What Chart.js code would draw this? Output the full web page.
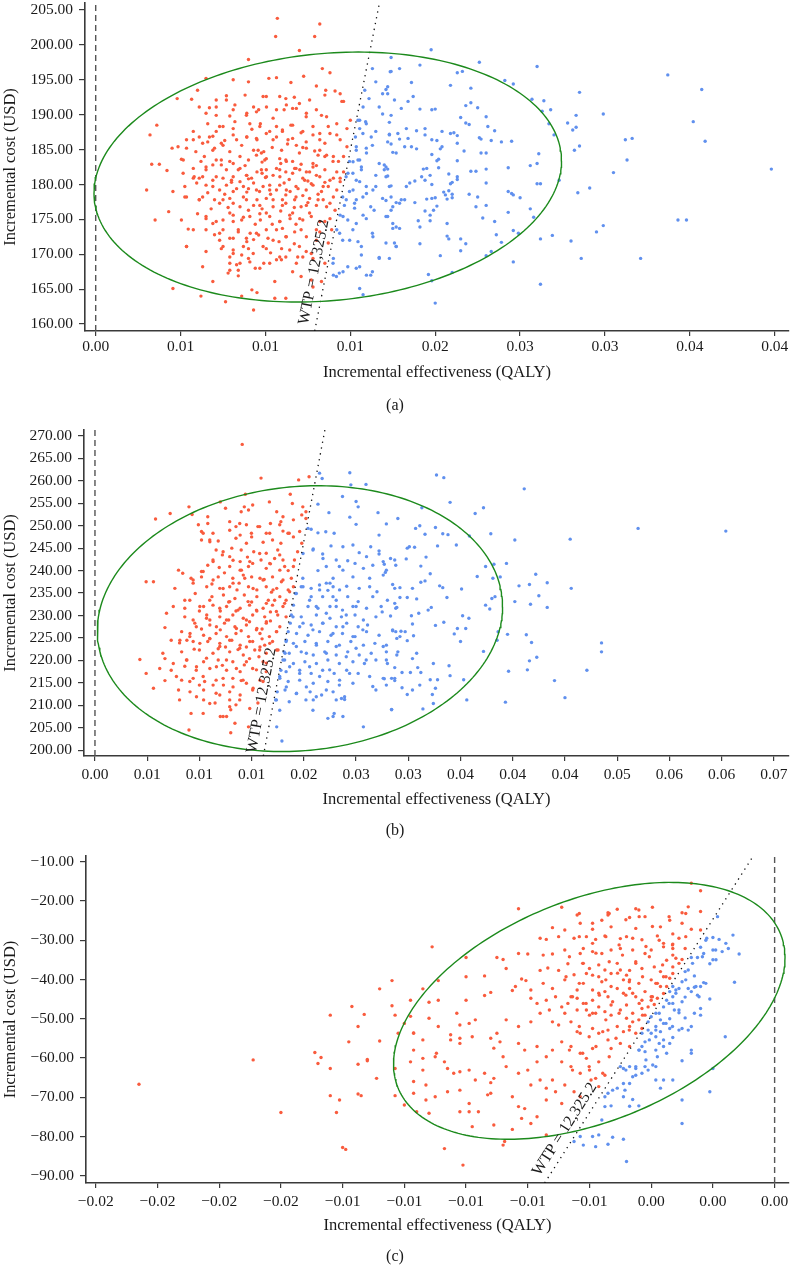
<!DOCTYPE html>
<html>
<head>
<meta charset="utf-8">
<title>Cost-effectiveness planes</title>
<script src="https://cdn.jsdelivr.net/npm/chart.js@4.4.1/dist/chart.umd.min.js"></script>
<style>
  html, body { margin: 0; padding: 0; background: #fff; }
  #page { position: relative; width: 793px; height: 1266px; overflow: hidden; }
  .panel { position: absolute; left: 0; width: 793px; }
</style>
</head>
<body>
<div id="page">
  <div class="panel" style="top:-13px;height:433px"><canvas id="chartA"></canvas></div>
  <div class="panel" style="top:414px;height:426px"><canvas id="chartB"></canvas></div>
  <div class="panel" style="top:840px;height:426px"><canvas id="chartC"></canvas></div>
</div>
<script>
// willingness-to-pay threshold (USD / QALY)
const WTP = 12325.2;

// points are [incremental effectiveness in 1/1000 QALY, incremental cost in USD]
// panel (a)
const redA = [
  [10.7,203.8],[13.2,203.0],[10.6,201.2],[12.9,201.2],[12.0,199.2],[9.0,197.9],[13.35,196.6],[13.8,196.0],[6.5,195.2],[8.1,195.0],
  [9.0,194.7],[10.2,195.2],[10.65,195.3],[12.25,195.5],[11.5,194.6],[13.0,194.1],[6.0,193.5],[13.55,193.5],[14.1,193.4],[4.8,192.3],
  [5.65,192.2],[7.1,192.1],[7.7,192.7],[8.8,192.8],[10.05,192.6],[11.2,192.3],[11.7,192.5],[12.6,192.1],[14.5,191.9],[14.4,193.0],
  [6.1,191.1],[6.7,191.0],[8.2,191.4],[9.3,191.1],[11.1,190.7],[11.6,190.9],[12.0,191.6],[13.3,189.9],[7.1,189.9],[7.9,189.8],
  [8.9,190.2],[9.6,190.7],[10.45,189.5],[12.4,189.7],[15.0,189.2],[3.6,188.5],[6.6,188.7],[7.3,188.3],[8.1,188.0],[9.7,188.7],
  [10.65,188.3],[11.5,188.5],[12.8,188.3],[13.7,188.3],[14.8,188.0],[5.75,187.6],[6.1,186.8],[8.1,187.1],[8.9,186.8],[10.05,187.3],
  [11.0,187.6],[12.1,187.4],[13.2,187.3],[14.2,187.1],[3.2,187.1],[5.35,186.4],[6.6,186.1],[7.4,185.9],[9.5,186.4],[10.45,186.4],
  [11.6,186.6],[12.4,186.1],[13.5,185.9],[14.8,185.4],[4.5,185.2],[4.85,185.4],[5.9,184.7],[6.9,184.9],[7.9,184.7],[9.3,184.9],
  [9.9,184.7],[10.95,184.9],[12.0,184.5],[13.1,184.2],[14.0,184.0],[14.6,184.0],[6.4,184.0],[8.5,184.0],[7.1,183.5],[8.1,183.0],
  [9.0,183.5],[10.05,183.7],[11.2,183.5],[11.6,183.3],[12.8,183.0],[13.5,184.0],[14.3,183.3],[5.05,183.6],[3.3,182.9],[3.75,182.9],
  [4.2,182.0],[5.75,182.3],[6.5,182.5],[7.7,182.1],[8.5,182.3],[9.5,181.8],[10.05,182.1],[10.65,182.3],[11.2,181.8],[11.8,182.3],
  [12.6,181.8],[13.5,182.1],[14.6,181.8],[5.15,181.6],[5.75,180.9],[6.3,181.1],[7.1,181.1],[8.1,181.1],[8.9,181.3],[9.8,181.6],
  [10.85,181.1],[11.6,181.6],[12.2,180.9],[13.2,181.1],[14.0,180.9],[14.4,180.4],[5.95,180.2],[6.5,179.9],[7.7,179.9],[8.5,180.4],
  [9.3,180.2],[10.25,179.9],[11.1,180.2],[11.8,179.7],[12.8,179.9],[13.7,179.7],[3.0,179.2],[4.55,179.0],[5.25,179.7],[7.3,179.2],
  [8.1,179.0],[9.0,179.4],[9.65,179.0],[10.65,179.2],[11.45,179.0],[12.4,179.2],[13.3,179.0],[14.2,179.2],[5.25,178.2],[6.3,178.2],
  [7.0,177.8],[7.9,178.0],[8.7,178.2],[9.5,177.8],[10.05,178.0],[11.0,177.8],[11.8,178.2],[12.6,178.0],[13.4,177.8],[14.0,178.2],
  [6.1,177.8],[7.3,177.3],[8.5,176.8],[9.3,177.0],[10.45,176.8],[11.2,177.3],[12.1,176.8],[13.0,177.0],[13.8,177.3],[4.3,176.1],
  [7.9,175.9],[9.0,176.3],[10.05,175.9],[11.6,175.9],[12.6,175.9],[3.5,174.9],[5.05,174.9],[6.5,175.1],[7.1,174.7],[8.1,174.7],
  [9.7,174.9],[10.85,174.7],[11.45,175.1],[12.2,174.9],[13.5,174.7],[5.45,173.6],[6.5,173.5],[7.5,173.5],[8.4,173.5],[9.1,173.0],
  [10.05,173.5],[11.0,173.7],[12.1,173.5],[13.2,173.2],[13.9,173.5],[7.3,172.0],[8.1,172.3],[8.9,171.8],[9.6,172.75],[10.45,172.0],
  [11.2,172.5],[13.0,172.0],[5.35,171.1],[7.4,170.8],[8.1,170.6],[9.0,170.8],[10.05,170.8],[10.95,170.8],[12.0,171.1],[13.7,171.6],
  [7.9,169.6],[9.0,169.4],[9.9,168.7],[10.65,169.2],[11.2,169.6],[11.9,169.6],[12.8,169.4],[6.3,168.2],[8.3,168.5],[8.5,168.7],
  [7.9,167.7],[9.4,168.0],[11.6,167.5],[13.5,168.7],[7.8,167.3],[8.4,166.9],[12.1,166.8],[6.9,166.1],[10.55,166.1],[13.3,166.1],
  [4.55,165.1],[9.2,164.9],[9.5,164.5],[6.2,164.0],[8.6,164.0],[10.55,163.7],[11.2,163.7],[7.65,163.2],[9.3,162.0],[12.7,166.3],
  [12.8,165.3],[6.9,186.9],[7.6,186.3],[8.6,185.6],[9.2,187.9],[10.4,185.3],[11.3,185.8],[12.2,185.3],[12.9,184.8],[6.2,183.3],
  [7.4,182.8],[8.8,182.7],[9.8,183.2],[10.9,183.0],[12.1,182.9],[13.0,182.7],[6.9,180.6],[8.0,180.3],[9.0,180.8],[10.0,181.0],
  [11.4,180.7],[12.5,180.5],[13.5,180.3],[6.6,178.8],[7.6,178.6],[8.9,178.9],[10.3,178.6],[11.2,178.5],[12.2,178.4],[13.1,178.6],
  [6.8,176.5],[7.8,176.7],[9.8,176.5],[10.9,176.2],[11.7,176.7],[12.5,177.4],[6.0,175.8],[8.7,175.3],[9.4,174.3],[10.4,174.3],
  [11.8,174.3],[7.0,172.8],[9.3,172.1],[10.8,171.8],[11.7,171.5],[6.5,170.4],[8.6,169.9],[10.3,170.2],[12.4,170.4],
  [9.57,184.9],[9.76,184.5],[9.47,184.2],[9.96,183.5],[10.84,183.7],[11.23,183.3],[11.72,182.3],[12.02,182.1],[12.41,181.8],[12.8,182.5],
  [13.0,181.3],[10.84,182.1],[10.45,181.3],[10.06,181.1],[9.76,182.1],[9.18,180.9],[8.88,181.3],[8.4,182.1],[7.9,183.3],[7.4,183.5],
  [6.9,182.8],[6.5,182.1],[6.1,180.9],[5.8,181.1],[7.5,180.9],[8.0,180.6],[6.9,179.7],[8.3,179.4],[8.7,179.7],[9.47,179.2],
  [9.86,179.7],[10.25,179.2],[10.84,179.9],[11.23,179.2],[11.92,179.4],[12.31,180.6],[12.7,180.1],[13.4,179.7],[13.8,180.6],[14.2,181.8],
  [14.4,180.9],[13.98,183.3],[13.6,184.2],[13.2,184.9],[12.41,185.2],[11.82,185.6],[11.33,186.4],[10.65,186.8],[10.25,187.6],[9.67,188.3],
  [9.08,188.7],[8.2,189.0],[7.5,188.3],[7.1,187.6],[6.7,186.8],[6.3,185.9],[5.75,186.4],[5.35,185.2],[7.0,185.2],[7.5,185.6],
  [8.3,186.4],[8.9,186.8],[9.47,186.6],[11.0,187.8],[11.6,188.5],[12.2,187.6],[12.8,187.1],[13.2,186.4],[13.8,187.3],[14.4,186.4],
  [14.2,188.7],[13.6,189.7],[13.0,190.7],[12.41,190.2],[11.82,190.9],[11.23,191.4],[10.65,190.7],[10.06,191.1],[9.47,190.4],[8.88,189.9],
  [8.1,190.7],[7.1,191.1],[6.5,190.2],[7.7,192.1],[9.86,192.6],[10.84,192.6],[13.5,192.8],[14.6,191.9],[6.5,175.4],[6.9,174.4],
  [7.5,174.9],[8.1,175.6],[8.6,174.9],[9.08,175.4],[9.67,175.8],[10.25,175.4],[10.84,174.7],[11.43,175.6],[12.02,175.1],[12.7,175.4],
  [13.2,174.7],[13.8,175.1],[14.1,176.3],[7.3,173.0],[7.9,172.3],[8.4,173.2],[8.88,172.3],[9.47,173.0],[10.15,172.3],[10.65,173.5],
  [11.23,172.5],[11.72,173.2],[12.41,172.5],[13.0,173.5],[7.5,171.1],[8.1,170.1],[8.7,171.1],[9.28,170.1],[9.86,171.1],[10.84,169.6],
  [11.43,170.6],[12.2,169.6],[12.7,170.1],[7.9,168.7],[8.4,167.7],[9.08,168.9],[9.67,168.0],[10.25,168.7],[10.94,169.2],[11.82,168.7],
  [5.35,171.1],[5.75,173.5],[6.1,177.8],[5.35,178.2],[5.16,183.5],[7.5,177.8],[8.1,177.3],[8.88,177.8],[9.67,177.0],[10.45,177.8],
  [11.0,177.0],[11.72,177.8],[12.41,177.0],[13.1,177.8],[13.6,176.8]
];
const blueA = [
  [16.3,196.6],[17.4,196.2],[16.5,194.7],[17.2,194.0],[15.85,193.5],[16.9,193.0],[16.1,192.3],[15.75,191.1],[16.7,191.1],[17.4,189.9],
  [15.45,189.2],[15.9,189.0],[15.55,188.0],[16.5,187.6],[17.3,187.1],[15.3,186.8],[16.3,185.6],[17.2,186.1],[15.35,185.4],[15.95,184.5],
  [15.45,183.5],[14.95,183.3],[16.7,183.0],[15.65,182.5],[17.1,182.5],[15.15,181.6],[16.5,181.3],[17.1,181.1],[14.75,181.1],[15.55,180.4],
  [16.5,179.7],[17.3,179.7],[14.95,179.0],[15.95,178.7],[14.55,178.2],[15.35,177.8],[16.9,178.0],[14.65,177.0],[15.25,176.6],[16.4,176.3],
  [17.5,176.8],[14.4,175.6],[15.75,175.6],[17.1,175.4],[14.85,174.9],[17.7,173.9],[14.2,173.5],[15.15,173.5],[16.3,173.0],[14.55,172.0],
  [15.45,171.8],[17.1,171.6],[17.7,171.1],[15.65,169.9],[16.7,169.4],[14.0,169.4],[14.85,168.2],[15.35,168.0],[14.35,167.3],[15.95,167.0],
  [16.3,167.5],[15.55,165.1],[15.75,164.2],[14.0,167.0],
  [19.76,199.3],[17.4,198.2],[17.35,196.15],[17.9,196.6],[19.1,197.1],[22.6,197.5],[26.0,196.9],[21.3,196.0],[21.6,196.2],[18.6,194.6],
  [20.9,194.2],[24.1,194.9],[24.6,194.4],[22.1,193.8],[17.1,193.6],[17.2,193.0],[18.7,192.6],[17.6,192.1],[18.4,191.9],[28.5,193.2],
  [25.7,192.2],[26.4,192.0],[22.1,191.7],[21.8,191.3],[22.5,191.0],[18.0,190.9],[19.1,190.8],[19.8,190.7],[20.0,190.8],[26.3,190.5],
  [26.8,190.7],[16.9,190.1],[28.3,189.9],[29.9,190.1],[21.5,189.6],[23.0,189.7],[21.8,188.8],[22.0,188.6],[27.8,188.8],[26.7,188.7],
  [17.3,188.9],[23.1,188.3],[23.5,187.7],[28.1,187.8],[28.3,188.2],[35.2,189.0],[35.7,193.6],[33.7,195.7],[18.3,188.0],[18.9,187.7],
  [19.4,188.0],[19.4,187.1],[20.4,187.6],[20.9,187.3],[21.1,187.4],[21.3,187.0],[17.3,187.2],[17.8,187.3],[18.4,186.6],[17.9,186.5],
  [19.8,186.4],[20.1,186.3],[22.6,186.7],[22.7,186.5],[23.3,186.3],[23.9,186.1],[24.5,186.2],[27.0,187.1],[31.2,186.4],[31.6,186.6],
  [35.9,186.2],[17.4,185.8],[18.2,185.4],[18.6,185.4],[18.9,185.1],[20.4,185.4],[21.3,185.9],[20.3,185.1],[28.5,185.5],[28.2,184.9],
  [17.5,184.6],[17.7,184.5],[19.8,184.3],[21.7,184.8],[22.7,184.5],[23.0,184.5],[26.1,184.4],[20.1,183.4],[20.2,183.6],[21.3,183.4],
  [25.6,182.7],[26.0,183.0],[31.3,183.5],[17.0,182.8],[19.3,182.2],[19.5,182.3],[20.2,182.4],[24.3,182.4],[17.0,182.1],[17.2,182.2],
  [17.2,181.2],[22.1,181.9],[22.4,181.9],[23.0,182.2],[30.5,181.7],[39.8,182.2],[20.8,181.5],[19.7,181.3],[19.2,181.1],[21.3,181.1],
  [21.3,180.7],[19.4,180.6],[18.8,180.5],[18.5,180.2],[21.0,180.3],[20.9,180.1],[23.0,180.2],[26.0,180.1],[26.2,180.1],[27.3,180.6],
  [19.8,180.0],[18.3,179.7],[17.4,179.8],[28.4,178.8],[29.1,179.5],[20.5,178.9],[20.6,178.5],[20.8,179.1],[21.0,178.6],[22.0,178.6],
  [22.5,178.2],[24.3,179.0],[24.5,178.7],[24.6,178.5],[25.0,178.1],[19.5,177.9],[19.8,178.0],[20.0,178.1],[17.1,177.7],[17.4,178.2],
  [17.7,177.4],[17.9,177.3],[18.0,177.8],[18.2,177.8],[18.8,177.4],[21.0,178.1],[20.7,177.9],[20.1,176.9],[19.4,176.2],[19.9,176.3],
  [17.4,176.3],[22.4,176.8],[23.0,177.0],[24.3,176.0],[25.6,176.5],[17.2,175.4],[19.7,175.6],[22.8,175.2],[25.8,175.3],[19.0,174.8],
  [19.7,174.8],[20.7,174.4],[17.5,174.4],[17.5,173.7],[17.9,173.7],[19.1,173.9],[23.5,174.7],[34.3,174.9],[34.8,174.9],[29.9,174.1],
  [29.5,173.2],[24.6,173.4],[24.9,173.0],[23.6,172.8],[20.7,172.6],[20.8,172.2],[21.5,172.2],[26.2,172.2],[26.9,172.7],[28.0,171.9],
  [23.9,171.7],[21.8,171.5],[19.1,171.5],[17.6,171.6],[17.7,171.1],[21.5,170.5],[20.3,169.8],[23.0,169.8],[23.3,170.4],[16.7,169.55],
  [17.3,169.4],[24.6,168.9],[28.6,169.4],[32.1,169.4],[19.6,167.1],[19.8,166.2],[21.0,167.4],[26.2,165.7],[20.0,163.0],
  [15.16,183.25],[15.55,183.5],[14.86,181.6],[15.35,180.6],[15.65,182.1],[15.94,179.7],[15.16,179.2],[14.76,177.8],[15.25,177.3],[15.74,178.2],
  [16.33,179.2],[16.2,176.8],[14.57,175.4],[15.35,174.4],[15.94,175.1],[14.37,173.0],[14.96,172.0],[15.65,171.1],[16.33,172.5],[13.98,168.7],
  [14.57,167.5],[14.18,166.8],[15.55,168.2],[16.2,167.0],[15.55,189.2],[15.94,188.7],[15.74,187.3],[16.23,186.8],[15.35,184.9],[15.94,185.2]
];

// panel (b)
const redB = [
  [14.1,268.1],[15.9,260.6],[19.5,260.2],[20.5,260.9],[14.4,257.0],[18.7,257.0],[12.0,255.3],[16.7,255.3],[9.0,254.2],[12.5,253.9],
  [14.3,254.2],[15.1,254.6],[18.9,254.95],[19.9,254.2],[7.2,252.7],[5.8,251.5],[9.3,252.5],[10.8,252.0],[14.0,253.1],[14.7,253.5],
  [17.4,253.1],[18.0,252.0],[19.8,252.4],[20.2,253.1],[9.9,250.2],[10.8,250.5],[12.9,250.9],[13.5,249.8],[14.5,250.2],[15.6,249.8],
  [16.8,250.5],[17.8,250.9],[19.0,251.3],[20.2,251.6],[10.2,248.7],[11.3,248.3],[13.9,247.9],[15.0,247.5],[16.4,248.3],[18.0,248.8],
  [18.6,248.3],[19.6,248.7],[10.2,246.8],[11.0,246.4],[11.8,246.6],[13.5,247.2],[14.5,246.1],[16.1,246.3],[17.0,246.8],[17.8,246.1],
  [19.0,247.5],[19.8,246.1],[11.6,244.6],[13.1,245.0],[14.0,244.6],[15.2,244.2],[16.4,243.85],[17.5,244.6],[19.4,244.2],[11.3,242.35],
  [12.9,243.1],[13.9,242.0],[15.1,241.6],[15.9,242.35],[17.2,242.7],[18.0,242.35],[19.1,242.35],[10.8,241.2],[11.9,240.7],[12.9,240.9],
  [13.9,240.1],[14.7,240.9],[16.4,240.5],[17.7,240.1],[19.0,240.9],[8.0,240.1],[8.4,239.4],[10.2,239.8],[4.9,237.5],[5.6,237.5],
  [9.2,238.3],[10.2,238.6],[11.8,238.6],[13.2,238.3],[15.0,238.6],[15.8,238.3],[17.0,238.6],[18.0,237.9],[18.8,238.3],[7.65,236.05],
  [9.4,237.2],[10.7,236.4],[11.95,236.05],[12.9,236.4],[13.6,235.7],[14.7,236.4],[15.5,235.7],[16.4,236.4],[17.4,236.05],[18.5,235.7],
  [19.0,236.4],[9.6,234.9],[11.2,234.2],[12.3,234.55],[13.4,233.8],[14.3,234.55],[15.5,234.2],[16.6,233.4],[17.7,234.2],[18.3,233.4],
  [8.6,233.4],[7.5,232.0],[8.6,231.6],[10.4,232.0],[11.3,232.3],[12.6,232.0],[13.9,231.6],[14.8,232.3],[16.1,231.6],[17.0,232.3],
  [18.0,232.0],[6.85,230.5],[10.7,230.1],[11.95,229.7],[13.2,230.1],[14.2,229.4],[15.1,230.1],[16.25,229.7],[17.5,230.1],[18.3,229.7],
  [9.4,229.0],[9.7,227.5],[11.0,227.9],[12.4,228.3],[13.4,227.5],[14.5,227.9],[15.5,227.1],[16.4,228.3],[17.7,227.5],[6.7,227.3],
  [8.3,226.4],[9.1,226.0],[10.4,225.6],[11.6,226.0],[12.6,225.3],[13.5,226.0],[14.7,225.3],[15.8,226.0],[16.7,225.3],[17.4,226.4],
  [7.3,224.5],[8.1,223.9],[8.8,224.5],[9.4,224.2],[10.8,224.2],[11.95,223.8],[13.1,224.5],[13.9,223.4],[15.1,224.2],[16.25,223.4],
  [17.0,224.2],[4.3,220.2],[4.9,217.1],[6.5,221.6],[8.3,221.9],[10.0,222.3],[11.3,221.6],[12.9,221.9],[14.2,221.2],[15.3,222.3],
  [16.4,221.6],[17.4,222.3],[6.7,220.4],[8.8,220.1],[10.4,219.7],[11.8,220.1],[13.2,219.7],[14.8,220.4],[16.1,219.7],[7.5,219.3],
  [6.2,218.2],[7.3,217.8],[8.6,218.7],[9.7,217.8],[11.0,218.2],[12.6,217.8],[13.9,217.5],[15.1,218.2],[16.4,217.5],[5.6,213.8],
  [6.7,215.5],[8.3,215.6],[9.4,216.0],[10.5,215.3],[11.6,215.6],[13.2,216.0],[14.5,214.9],[15.8,215.6],[8.0,213.4],[9.1,213.0],
  [10.4,213.4],[11.6,212.7],[12.9,213.0],[13.9,212.3],[15.1,213.4],[8.1,211.2],[10.4,211.2],[11.5,210.5],[12.9,211.2],[13.5,210.1],
  [15.6,210.5],[9.2,208.2],[12.0,207.5],[12.6,207.5],[13.4,206.0],[9.0,204.5],[13.0,203.9],[14.7,205.2],
  [12.2,243.5],[14.6,243.0],[16.8,241.5],[18.5,240.0],[12.4,239.5],[14.2,239.0],[16.2,238.0],[11.2,237.0],[13.8,237.2],[16.9,235.2],
  [12.8,233.0],[15.0,233.0],[17.2,233.4],[10.0,231.0],[12.0,231.0],[13.5,231.0],[15.5,231.0],[16.8,230.8],[11.0,229.0],[12.8,229.0],
  [14.8,228.6],[16.8,228.8],[10.2,227.0],[12.0,226.8],[14.0,226.6],[16.0,227.0],[11.0,224.8],[12.5,223.0],[14.5,223.0],[16.0,224.8],
  [9.5,222.5],[11.8,222.6],[13.7,222.4],[15.8,223.0],[12.2,218.9],[14.3,219.0],[15.7,220.8],[10.0,214.5],[12.3,214.5],[14.0,215.5],
  [13.0,209.0],
  [10.36,248.3],[10.99,246.8],[12.9,249.0],[13.86,250.5],[14.98,248.3],[15.77,249.8],[16.73,248.3],[17.69,250.2],[18.48,248.3],[12.27,244.2],
  [13.22,242.3],[14.02,240.1],[14.82,242.0],[15.77,243.8],[16.73,241.6],[17.69,243.5],[18.16,240.9],[11.31,242.0],[10.36,239.8],[9.4,237.9],
  [11.31,237.9],[12.27,236.0],[13.22,237.2],[14.34,238.3],[15.14,236.0],[16.09,237.9],[17.05,235.7],[17.85,237.5],[18.64,235.3],[9.08,233.4],
  [10.04,232.0],[10.99,233.4],[11.95,231.6],[12.9,233.1],[13.7,231.2],[14.66,233.1],[15.46,231.2],[16.41,232.7],[17.37,230.9],[18.16,232.7],
  [8.6,229.7],[9.56,228.3],[10.68,229.4],[11.63,227.5],[12.59,229.0],[13.54,227.1],[14.5,229.0],[15.46,226.8],[16.41,228.6],[17.37,226.4],
  [8.13,224.5],[9.08,225.3],[10.04,223.8],[10.99,224.9],[11.95,223.1],[12.9,224.5],[13.86,222.7],[14.82,224.2],[15.77,222.3],[16.73,223.8],
  [17.53,222.3],[8.76,220.1],[9.72,218.6],[10.68,220.5],[11.63,218.6],[12.59,220.1],[13.54,218.2],[14.5,219.7],[15.46,217.9],[16.41,219.4],
  [7.8,216.4],[9.08,215.3],[10.36,216.4],[11.31,214.5],[12.27,216.0],[13.22,214.1],[14.18,215.6],[15.14,213.8],[16.09,215.3],[9.72,211.9],
  [10.99,210.4],[11.95,212.3],[12.9,209.7],[13.86,211.2],[14.82,209.3],[10.36,208.2],[12.27,207.5]
];
const blueB = [
  [21.5,261.7],[21.75,260.5],[24.4,261.8],[24.5,259.1],[25.95,259.2],[21.35,254.8],[22.4,252.9],[23.7,256.5],[25.0,255.4],[25.2,254.2],
  [27.1,252.9],[29.0,251.6],[24.4,251.9],[27.9,250.4],[25.0,250.3],[20.4,249.4],[20.7,249.2],[21.35,248.4],[22.1,248.65],[22.9,248.3],
  [27.2,247.9],[24.7,245.7],[26.4,245.3],[22.6,245.5],[20.9,244.8],[21.8,243.7],[25.3,244.0],[26.0,243.1],[27.2,243.7],[28.3,242.7],
  [24.2,242.2],[24.9,241.6],[27.6,242.0],[28.7,242.35],[23.4,240.9],[25.7,240.5],[26.6,241.2],[27.9,240.1],[21.35,240.0],[22.8,238.3],
  [24.7,238.6],[26.3,238.3],[27.6,239.0],[19.9,238.3],[19.75,236.4],[20.7,236.05],[21.5,236.8],[22.5,237.2],[22.3,235.6],[22.8,236.4],
  [24.1,236.5],[25.3,236.05],[26.3,236.4],[27.0,235.3],[28.7,236.05],[19.2,234.9],[20.7,234.2],[21.8,234.2],[23.1,233.4],[24.2,234.2],
  [25.2,233.1],[26.6,234.2],[28.0,233.4],[19.0,232.3],[20.4,232.0],[21.35,231.6],[22.5,232.0],[23.7,231.2],[24.7,232.0],[26.0,231.6],
  [27.4,232.0],[28.8,231.6],[18.8,230.1],[19.75,229.7],[21.2,230.1],[22.5,229.4],[23.6,229.7],[24.9,230.1],[25.7,229.0],[26.9,229.7],
  [18.7,228.3],[19.6,227.5],[20.7,227.9],[21.8,228.3],[23.1,227.5],[24.1,228.3],[25.2,227.5],[26.1,227.9],[28.5,226.8],[18.5,226.4],
  [19.3,226.0],[20.4,225.6],[21.5,226.4],[22.6,225.6],[23.7,226.0],[24.9,225.3],[26.0,226.4],[27.2,225.6],[18.3,224.2],[19.0,223.8],
  [20.1,224.2],[21.2,223.4],[22.3,224.2],[23.4,223.4],[24.5,224.2],[25.7,223.4],[26.8,223.8],[27.9,223.4],[18.1,221.9],[18.6,221.6],
  [19.75,221.9],[20.9,221.2],[22.0,221.9],[23.1,221.2],[24.2,221.9],[25.3,221.2],[26.45,221.6],[27.9,221.9],[18.0,220.1],[19.0,219.3],
  [20.1,219.7],[21.2,219.3],[22.3,220.1],[23.4,219.3],[24.7,219.7],[25.8,219.3],[26.9,220.1],[28.0,219.3],[17.8,217.8],[18.3,217.5],
  [19.6,217.8],[20.7,217.1],[21.8,217.8],[22.9,217.1],[24.1,217.8],[25.2,217.1],[26.3,216.4],[27.6,216.0],[28.7,216.0],[17.7,216.0],
  [18.5,215.3],[19.6,215.6],[20.9,214.9],[22.3,215.3],[23.4,214.5],[24.7,214.9],[26.6,214.2],[26.9,213.4],[17.45,213.0],[18.2,213.4],
  [19.3,212.7],[20.6,213.0],[21.7,212.3],[22.8,213.0],[23.9,211.9],[17.3,211.2],[18.6,210.8],[20.2,211.2],[20.9,211.2],[23.6,211.5],
  [23.9,211.3],[28.4,209.0],[22.3,207.1],[22.8,207.5],[22.9,208.2],[25.7,205.2],[17.4,205.2],[17.9,202.05],
  [32.7,261.3],[33.4,260.7],[41.1,258.2],[34.0,255.2],[31.3,254.0],[37.2,254.0],[36.4,252.7],[30.7,249.4],[31.1,250.0],[32.6,249.6],
  [33.3,248.2],[33.8,248.0],[31.6,248.1],[35.85,247.7],[37.9,248.2],[40.2,246.8],[45.5,247.0],[52.0,249.4],[60.4,248.8],[32.8,245.5],
  [34.6,245.7],[29.9,245.0],[30.1,245.3],[30.6,245.2],[27.2,244.4],[31.7,243.0],[29.8,242.6],[28.8,241.2],[27.7,241.4],[31.2,241.0],
  [37.4,240.9],[38.2,241.4],[39.4,241.6],[32.1,239.3],[36.6,238.7],[38.1,238.3],[38.8,238.6],[42.2,239.2],[27.8,239.6],[31.2,237.4],
  [31.6,237.7],[33.0,236.6],[33.3,236.2],[28.5,236.9],[29.2,236.2],[30.4,236.05],[35.1,235.9],[40.6,236.6],[41.6,236.9],[43.3,237.3],
  [45.6,236.05],[42.5,234.4],[40.2,233.1],[41.7,232.5],[43.3,231.8],[29.9,234.0],[29.2,234.0],[30.8,233.7],[33.7,234.0],[38.0,233.8],
  [38.3,234.2],[37.4,232.3],[37.8,231.45],[32.2,231.8],[31.9,231.2],[28.9,231.8],[28.7,232.7],[27.5,230.8],[28.3,229.9],[30.3,229.95],
  [31.0,230.5],[35.2,229.95],[35.8,229.4],[30.4,228.1],[33.4,228.5],[32.6,227.8],[34.7,227.1],[35.5,227.1],[28.5,226.6],[28.8,226.4],
  [29.3,226.5],[29.7,226.4],[30.5,225.5],[29.2,225.3],[28.9,224.9],[29.9,224.4],[34.4,225.9],[35.0,224.2],[39.5,225.8],[38.6,226.4],
  [38.5,224.5],[41.3,225.7],[41.8,224.0],[48.5,223.9],[48.5,221.9],[37.2,222.0],[27.6,223.1],[29.0,221.9],[30.8,221.6],[28.9,221.2],
  [27.9,220.1],[30.4,220.4],[32.4,219.3],[28.7,218.4],[30.9,218.4],[33.9,218.8],[41.6,219.9],[42.3,220.7],[39.6,217.6],[41.4,217.9],
  [47.1,217.8],[29.4,217.3],[30.2,217.3],[31.2,217.3],[32.1,215.7],[32.8,215.7],[34.0,216.6],[35.3,215.7],[27.7,215.9],[28.4,216.0],
  [27.9,214.5],[28.7,215.5],[29.4,213.9],[30.4,213.4],[31.1,214.5],[32.6,213.8],[29.9,212.4],[32.3,212.4],[44.0,215.5],[45.0,211.7],
  [35.6,211.2],[39.3,210.7],[32.4,210.4],[28.4,209.1],[31.4,209.2],
  [19.28,234.9],[19.92,236.4],[20.55,233.4],[21.51,235.7],[22.15,237.2],[22.79,234.2],[23.42,235.7],[21.19,232.0],[22.15,230.5],[23.1,232.0],
  [24.06,230.1],[25.0,232.0],[18.96,229.7],[19.92,228.3],[20.87,226.8],[21.83,228.3],[22.79,226.0],[23.74,227.5],[24.7,225.3],[25.65,226.8],
  [18.32,224.5],[19.28,223.1],[20.24,221.6],[21.19,223.8],[22.15,221.6],[23.1,223.1],[24.06,220.8],[25.0,222.7],[25.97,220.1],[18.2,221.6],
  [18.16,220.1],[18.64,218.6],[19.6,217.1],[20.55,218.6],[21.51,216.4],[22.47,217.9],[23.42,215.6],[24.38,217.1],[17.69,216.4],[18.32,214.1],
  [19.28,212.6],[20.24,214.1],[21.19,211.9],[22.15,213.4],[23.1,211.2],[17.37,211.2],[17.69,208.9],[20.87,208.9],[23.74,207.5],[19.92,243.8],
  [20.87,244.6],[21.83,242.7],[23.1,242.35],[23.74,245.3],[22.15,240.9],[23.74,240.1]
];

// panel (c)
const redC = [
  [-20.6,-66.7],[-16.9,-60.5],[-16.0,-73.9],[-14.9,-58.6],[-14.7,-59.9],[-14.8,-61.4],[-14.4,-62.7],[-14.4,-49.1],[-14.4,-69.6],[-14.1,-70.7],
  [-14.2,-73.9],[-13.8,-55.9],[-13.7,-46.9],[-14.0,-82.8],[-13.9,-83.3],[-13.5,-52.0],[-13.5,-69.2],[-13.4,-69.6],[-13.5,-61.6],[-13.2,-60.7],
  [-13.2,-60.4],[-13.3,-48.9],[-12.8,-55.7],[-12.8,-42.4],[-12.9,-65.2],[-12.4,-40.3],[-12.4,-46.7],[-12.3,-49.1],[-12.3,-62.7],[-12.3,-69.6],
  [-11.1,-31.7],[-8.3,-22.0],[-6.9,-21.6],[-5.1,-22.1],[-5.4,-23.0],[-4.5,-22.0],[-4.4,-22.3],[-3.96,-21.6],[-2.7,-15.5],[-2.4,-17.4],
  [-2.8,-21.5],[-2.4,-22.7],[-3.0,-23.0],[-6.4,-23.6],[-5.6,-24.9],[-5.4,-23.6],[-4.7,-24.2],[-4.2,-24.0],[-3.4,-24.9],[-3.7,-26.6],
  [-3.0,-25.7],[-2.7,-27.2],[-2.4,-27.4],[-7.2,-26.8],[-6.8,-27.4],[-6.3,-25.7],[-5.9,-27.2],[-5.3,-26.6],[-4.5,-27.0],[-3.3,-28.4],
  [-7.6,-29.5],[-7.4,-29.8],[-7.0,-29.1],[-6.5,-29.5],[-6.1,-29.1],[-5.8,-29.8],[-5.5,-28.9],[-5.0,-29.6],[-4.8,-29.1],[-4.3,-29.9],
  [-3.8,-28.9],[-3.6,-30.8],[-3.3,-31.0],[-3.1,-29.5],[-9.0,-34.4],[-8.8,-34.9],[-8.3,-33.4],[-8.0,-33.5],[-7.5,-33.8],[-7.2,-33.5],
  [-6.8,-32.5],[-6.3,-33.4],[-6.2,-32.1],[-5.9,-32.9],[-5.6,-33.4],[-5.3,-32.5],[-5.0,-32.1],[-4.6,-32.5],[-4.2,-33.4],[-4.0,-32.5],
  [-3.6,-31.7],[-3.3,-32.1],[-3.0,-34.9],[-10.0,-34.4],[-8.7,-37.2],[-9.4,-39.1],[-10.0,-39.3],[-10.9,-40.3],[-11.4,-42.4],[-11.8,-45.3],
  [-11.8,-49.4],[-11.2,-45.8],[-10.9,-45.3],[-10.3,-48.6],[-10.0,-45.3],[-9.7,-50.3],[-9.4,-44.1],[-9.2,-43.3],[-8.5,-42.8],[-8.2,-39.9],
  [-8.06,-40.3],[-7.6,-37.7],[-7.35,-37.1],[-7.0,-37.7],[-6.7,-36.0],[-6.5,-38.8],[-6.2,-35.9],[-6.0,-37.2],[-5.7,-36.3],[-5.5,-37.6],
  [-5.1,-35.9],[-4.7,-37.7],[-4.5,-35.5],[-4.3,-37.2],[-3.9,-36.8],[-3.7,-38.0],[-3.3,-36.8],[-3.1,-35.9],[-3.5,-35.1],[-8.4,-41.8],
  [-7.9,-42.7],[-7.5,-41.0],[-7.2,-42.3],[-6.8,-40.1],[-6.4,-42.7],[-6.2,-41.0],[-5.9,-42.7],[-5.6,-40.6],[-5.3,-41.8],[-4.9,-40.1],
  [-4.7,-42.3],[-4.4,-41.0],[-4.2,-43.1],[-4.0,-40.1],[-3.7,-41.8],[-3.4,-39.7],[-3.3,-38.5],[-7.9,-44.8],[-7.7,-46.1],[-7.4,-45.3],
  [-6.9,-47.0],[-6.6,-44.4],[-6.2,-46.1],[-6.1,-47.8],[-5.9,-45.3],[-5.7,-47.0],[-5.5,-48.2],[-5.3,-46.5],[-5.0,-47.8],[-4.8,-46.5],
  [-4.6,-48.6],[-4.3,-47.4],[-4.1,-47.0],[-3.8,-44.8],[-3.6,-43.6],[-6.0,-49.1],[-5.8,-48.6],[-5.3,-49.1],[-4.8,-49.9],[-4.4,-50.3],
  [-4.2,-49.1],[-8.7,-50.3],[-8.3,-52.0],[-7.9,-50.8],[-7.6,-48.6],[-7.2,-50.8],[-7.0,-51.6],[-6.6,-50.8],[-6.4,-53.3],[-6.3,-53.7],
  [-5.9,-52.5],[-5.7,-53.7],[-5.4,-52.9],[-5.1,-52.0],[-4.9,-53.3],[-4.7,-52.0],[-4.5,-53.7],[-4.3,-52.5],[-9.0,-53.7],[-9.2,-55.0],
  [-9.9,-51.2],[-10.2,-51.6],[-9.8,-54.6],[-10.5,-55.4],[-10.5,-54.1],[-10.96,-58.8],[-10.2,-56.3],[-11.4,-55.4],[-11.7,-53.6],[-10.7,-61.0],
  [-10.6,-62.7],[-11.0,-59.7],[-10.4,-63.9],[-10.2,-63.5],[-9.9,-63.1],[-9.7,-65.6],[-9.4,-63.9],[-9.1,-65.2],[-8.8,-59.7],[-8.7,-62.2],
  [-9.1,-57.5],[-8.9,-55.9],[-8.3,-56.3],[-8.1,-58.0],[-7.7,-57.1],[-7.7,-61.0],[-7.4,-59.7],[-7.2,-58.0],[-6.9,-55.9],[-6.6,-57.1],
  [-6.3,-58.8],[-6.1,-60.1],[-5.9,-57.6],[-5.7,-61.0],[-5.4,-55.4],[-5.3,-57.6],[-5.0,-56.3],[-4.7,-57.1],[-6.9,-61.0],[-6.6,-62.2],
  [-6.3,-63.9],[-6.0,-63.1],[-5.8,-65.2],[-5.5,-64.4],[-8.3,-63.9],[-8.0,-63.1],[-7.9,-66.9],[-7.6,-65.6],[-7.4,-67.7],[-7.1,-68.6],
  [-7.2,-65.6],[-6.8,-66.9],[-6.5,-68.6],[-6.3,-69.9],[-6.9,-71.6],[-8.5,-69.9],[-8.3,-72.4],[-8.1,-72.9],[-7.7,-75.0],[-7.9,-76.7],
  [-8.2,-75.4],[-7.4,-70.7],[-9.2,-66.3],[-9.3,-69.4],[-9.2,-69.0],[-9.9,-71.6],[-10.2,-68.2],[-9.9,-73.7],[-10.2,-73.7],[-9.8,-77.5],
  [-9.6,-73.7],[-9.1,-77.1],[-8.5,-78.2],[-8.8,-82.2],[-8.75,-81.3],[-7.4,-79.6],[-10.7,-83.1],[-10.1,-87.3],[-10.6,-68.6],[-11.0,-69.9],
  [-11.3,-66.9],[-11.3,-70.7],[-11.2,-74.1],[-11.6,-73.7],[-11.7,-66.0],[-11.7,-69.0],[-12.0,-72.0],[-11.4,-63.1],[-11.8,-61.0],[-11.7,-58.0],
  [-11.4,-60.1],[-12.2,-53.7],[-12.0,-51.2],[-11.7,-53.7],[-10.9,-52.0],[-11.2,-49.9],[-10.2,-55.0],[-5.95,-65.6],[-5.7,-67.3],
  [-5.1,-42.3],[-4.9,-43.5],[-4.5,-44.4],[-4.3,-45.3],[-4.0,-44.4],[-3.9,-46.4],[-4.8,-38.9],[-4.7,-40.1],[-5.0,-37.6],[-5.3,-38.5],
  [-6.1,-38.5],[-5.7,-39.3],[-3.8,-41.0],[-3.6,-39.3],[-3.3,-33.8],[-2.9,-32.1],[-3.5,-41.8],[-5.5,-43.1],[-5.4,-44.4],[-5.7,-43.5],
  [-6.4,-44.8],[-6.7,-46.1],[-7.1,-44.4],[-7.3,-47.8],[-6.8,-48.6],[-6.4,-47.8],[-4.0,-45.3],[-4.6,-43.5],
  [-6.33,-23.2],[-5.9,-25.7],[-5.36,-23.2],[-4.82,-24.8],[-4.39,-24.0],[-3.96,-26.5],[-3.42,-24.0],[-2.88,-23.2],[-6.33,-29.1],[-5.9,-30.8],
  [-5.47,-29.1],[-5.04,-31.2],[-4.6,-29.5],[-4.17,-31.6],[-3.74,-30.0],[-3.31,-31.2],[-2.88,-29.1],[-6.65,-34.2],[-6.22,-35.9],[-5.79,-33.3],
  [-5.36,-35.5],[-4.93,-33.8],[-4.5,-35.9],[-4.06,-34.2],[-3.63,-36.3],[-3.2,-34.6],[-6.76,-39.3],[-6.33,-41.0],[-5.9,-38.9],[-5.47,-40.1],
  [-5.09,-38.4],[-4.71,-40.6],[-4.28,-39.3],[-3.85,-41.0],[-3.52,-39.3],[-6.55,-44.4],[-6.11,-46.1],[-5.68,-44.0],[-5.25,-45.7],[-4.82,-44.0],
  [-4.39,-46.1],[-3.96,-44.4],[-5.9,-48.6],[-5.47,-50.3],[-5.04,-48.6],[-4.6,-50.8],[-4.28,-49.1],[-6.33,-52.0],[-6.01,-54.6],[-5.57,-53.3],
  [-5.14,-55.0],[-4.71,-52.9],[-6.65,-58.0],[-6.22,-58.8],[-5.79,-57.1],[-5.36,-59.7],[-6.55,-63.1],[-6.01,-62.2],[-5.57,-63.9]
];
const blueC = [
  [-1.85,-24.0],[-2.2,-29.5],[-2.0,-29.3],[-1.8,-29.8],[-1.35,-28.7],[-1.5,-32.1],[-1.15,-33.5],[-2.4,-31.8],[-2.3,-33.4],[-2.0,-32.5],
  [-1.7,-32.9],[-1.9,-35.0],[-2.1,-36.0],[-2.5,-34.4],[-2.7,-34.4],[-2.9,-38.0],[-2.8,-37.6],[-2.6,-39.1],[-2.3,-40.8],[-2.4,-41.8],
  [-2.6,-42.0],[-2.7,-43.1],[-2.8,-42.3],[-3.0,-40.6],[-3.1,-42.3],[-3.3,-41.8],[-3.4,-43.1],[-1.3,-40.7],[-2.1,-45.0],[-3.3,-44.4],
  [-3.5,-45.3],[-3.6,-47.0],[-3.3,-46.1],[-3.0,-45.7],[-3.25,-47.8],[-3.85,-48.6],[-4.0,-49.5],[-4.1,-50.8],[-3.7,-50.3],[-3.6,-51.2],
  [-3.85,-52.0],[-4.1,-52.9],[-4.0,-53.7],[-4.3,-53.7],[-2.4,-47.4],[-2.6,-48.6],[-2.4,-49.1],[-3.0,-52.5],[-3.4,-52.5],[-3.1,-52.9],
  [-2.8,-52.9],[-2.7,-52.0],[-3.6,-55.4],[-3.85,-54.6],[-4.2,-55.9],[-4.3,-57.1],[-4.4,-58.0],[-4.2,-58.4],[-3.85,-58.0],[-3.6,-57.1],
  [-3.4,-56.3],[-3.5,-58.8],[-3.8,-59.7],[-1.6,-54.6],[-2.7,-58.0],[-2.7,-58.8],[-3.0,-60.7],[-2.0,-62.7],[-3.95,-61.8],[-4.2,-62.2],
  [-4.1,-63.1],[-4.3,-63.9],[-4.5,-62.7],[-4.7,-62.2],[-4.9,-62.7],[-5.0,-62.2],[-4.5,-64.4],[-3.85,-65.6],[-3.6,-65.6],[-3.7,-67.7],
  [-3.3,-65.6],[-4.9,-66.5],[-4.7,-66.5],[-5.1,-67.7],[-4.85,-68.2],[-5.25,-68.2],[-5.4,-69.0],[-5.5,-69.9],[-4.9,-69.9],[-4.6,-70.6],
  [-3.0,-70.7],[-2.1,-68.6],[-5.3,-72.2],[-5.5,-72.4],[-4.7,-72.3],[-4.4,-72.2],[-3.0,-76.7],[-5.7,-79.6],[-5.9,-80.0],[-5.25,-80.2],
  [-5.4,-82.0],[-4.9,-80.7],[-5.8,-82.6],[-4.8,-86.4],[-6.3,-80.0],[-6.5,-81.3],[-6.2,-82.2],[-5.6,-75.8],[-3.2,-43.5],[-2.9,-44.5],
  [-3.1,-48.5],[-3.4,-50.0],[-2.5,-44.0],[-2.9,-49.8],[-3.7,-53.3],[-3.3,-54.8],
  [-2.23,-30.0],[-1.91,-32.5],[-1.58,-30.8],[-2.34,-34.2],[-2.0,-35.0],[-2.66,-35.9],[-2.88,-40.1],[-2.55,-41.8],[-2.23,-41.0],[-2.45,-44.4],
  [-3.2,-42.7],[-3.42,-46.1],[-3.1,-47.8],[-3.74,-48.6],[-3.52,-51.2],[-3.85,-52.9],[-4.06,-55.4],[-3.74,-56.3],[-3.31,-52.0],[-4.39,-58.0],
  [-4.17,-60.5],[-3.85,-62.2],[-4.5,-62.2],[-4.82,-63.1],[-4.6,-64.8]
];

// axis ticks and their printed labels
const xTicksA = [0, 0.005, 0.01, 0.015, 0.02, 0.025, 0.03, 0.035, 0.04];
const xLabelsA = ['0.00', '0.01', '0.01', '0.01', '0.02', '0.03', '0.03', '0.04', '0.04'];
const yTicksA = [160, 165, 170, 175, 180, 185, 190, 195, 200, 205];

const xTicksB = [0, 0.005, 0.01, 0.015, 0.02, 0.025, 0.03, 0.035, 0.04, 0.045, 0.05, 0.055, 0.06, 0.065];
const xLabelsB = ['0.00', '0.01', '0.01', '0.01', '0.02', '0.03', '0.03', '0.04', '0.04', '0.04', '0.05', '0.06', '0.06', '0.07'];
const yTicksB = [200, 205, 210, 215, 220, 225, 230, 235, 240, 245, 250, 255, 260, 265, 270];

const xTicksC = [-0.022, -0.02, -0.018, -0.016, -0.014, -0.012, -0.01, -0.008, -0.006, -0.004, -0.002, 0];
const xLabelsC = ['\u22120.02', '\u22120.02', '\u22120.02', '\u22120.02', '\u22120.01', '\u22120.01', '\u22120.01', '\u22120.01', '\u22120.01', '0.00', '0.00', '0.00'];
const yTicksC = [-90, -80, -70, -60, -50, -40, -30, -20, -10];

// 95% confidence ellipses (centre, half-widths, tilt phase)
const ellipseA = { cx: 0.01367, cy: 181.06, rx: 0.01377, ry: 17.91, phi: 0.13 };
const ellipseB = { cx: 0.019625, cy: 229.3, rx: 0.0194, ry: 29.6, phi: 0.09 };
const ellipseC = { cx: -0.006007, cy: -48.0, rx: 0.006344, ry: 32.72, phi: 0.428 };

const SERIF = '"Liberation Serif", "DejaVu Serif", serif';
const INK = '#1a1a1a';
const AXIS = '#3a3a3a';

Chart.defaults.font.family = SERIF;
Chart.defaults.color = INK;

function ellipsePoints(e) {
  const pts = [];
  for (let i = 0; i <= 240; i++) {
    const t = i / 240 * 2 * Math.PI;
    pts.push({ x: e.cx + e.rx * Math.cos(t), y: e.cy + e.ry * Math.sin(t + e.phi) });
  }
  return pts;
}

const toPts = arr => arr.map(p => ({ x: p[0] / 1000, y: p[1] }));

function fmtNum(v, d) {
  return (v < 0 ? '\u2212' : '') + Math.abs(v).toFixed(d);
}

// rotated "WTP = ..." label along the threshold line
const wtpLabel = {
  id: 'wtpLabel',
  afterDatasetsDraw(chart, args, opts) {
    const { ctx, scales: { x, y } } = chart;
    const yv = opts.at;
    const x1 = x.getPixelForValue(yv / WTP), y1 = y.getPixelForValue(yv);
    const x2 = x.getPixelForValue((yv + 10) / WTP), y2 = y.getPixelForValue(yv + 10);
    const ang = Math.atan2(y2 - y1, x2 - x1);
    ctx.save();
    ctx.translate(x1, y1);
    ctx.rotate(ang);
    ctx.font = '16px ' + SERIF;
    ctx.fillStyle = INK;
    ctx.textAlign = 'center';
    ctx.textBaseline = 'bottom';
    ctx.fillText('WTP = ' + WTP.toLocaleString('en-US'), 0, -opts.gap);
    ctx.restore();
  }
};

function makePanel(id, o) {
  const ctx = document.getElementById(id).getContext('2d');
  return new Chart(ctx, {
    type: 'scatter',
    data: {
      datasets: [
        { data: ellipsePoints(o.ellipse), showLine: true, borderColor: '#1c8a1c', borderWidth: 1.4, pointRadius: 0 },
        { data: [{ x: o.yMin / WTP, y: o.yMin }, { x: o.yMax / WTP, y: o.yMax }], showLine: true,
          borderColor: '#111', borderWidth: 1.3, borderDash: [1.3, 4.6], pointRadius: 0 },
        { data: [{ x: 0, y: o.yMin }, { x: 0, y: o.yMax }], showLine: true,
          borderColor: '#555', borderWidth: 1.4, borderDash: [6, 4], pointRadius: 0 },
        { data: toPts(o.red), backgroundColor: '#f95b3d', borderWidth: 0, pointRadius: 1.7 },
        { data: toPts(o.blue), backgroundColor: '#6090ee', borderWidth: 0, pointRadius: 1.7 }
      ]
    },
    options: {
      responsive: true,
      maintainAspectRatio: false,
      animation: false,
      events: [],
      layout: { padding: { top: o.padTop, left: 0, right: 3, bottom: o.padBottom } },
      plugins: {
        legend: { display: false },
        tooltip: { enabled: false },
        subtitle: { display: true, text: o.caption, position: 'bottom', color: INK,
          font: { family: SERIF, size: 16, weight: 'normal' }, padding: 0 },
        wtpLabel: { at: o.wtpAt, gap: 4 }
      },
      scales: {
        x: {
          type: 'linear', min: o.xMin, max: o.xMax,
          afterBuildTicks: s => { s.ticks = o.xTicks.map(v => ({ value: v })); },
          afterFit: s => { s.height = o.xAxisH; },
          ticks: { callback: (v, i) => o.xLabels[i], color: INK, font: { size: 15.5 },
            padding: o.xTickPad, maxRotation: 0, autoSkip: false },
          grid: { display: true, drawOnChartArea: false, drawTicks: true, tickLength: 5, color: AXIS, lineWidth: 1.2 },
          border: { display: true, color: AXIS, width: 1.6 },
          title: { display: true, text: 'Incremental effectiveness (QALY)', color: INK,
            font: { size: 16.5 }, padding: { top: 0, bottom: o.xTitlePad } }
        },
        y: {
          type: 'linear', min: o.yMin, max: o.yMax,
          afterBuildTicks: s => { s.ticks = o.yTicks.map(v => ({ value: v })); },
          afterFit: s => { s.width = o.yAxisW; },
          ticks: { callback: v => fmtNum(v, 2), color: INK, font: { size: 15.5 }, padding: 6, autoSkip: false },
          grid: { display: true, drawOnChartArea: false, drawTicks: true, tickLength: 6, color: AXIS, lineWidth: 1.2 },
          border: { display: true, color: AXIS, width: 1.6 },
          title: { display: true, text: 'Incremental cost (USD)', color: INK,
            font: { size: 16.5 }, padding: { top: 1, bottom: 0 } }
        }
      }
    },
    plugins: [wtpLabel]
  });
}

makePanel('chartA', {
  red: redA, blue: blueA, ellipse: ellipseA, caption: '(a)',
  xTicks: xTicksA, xLabels: xLabelsA, yTicks: yTicksA,
  xMin: -0.00063, xMax: 0.04084, yMin: 159.0, yMax: 206.0,
  padTop: 16, padBottom: 5, xAxisH: 64.8, yAxisW: 85, xTickPad: 2, xTitlePad: 13.5, wtpAt: 167.1
});

makePanel('chartB', {
  red: redB, blue: blueB, ellipse: ellipseB, caption: '(b)',
  xTicks: xTicksB, xLabels: xLabelsB, yTicks: yTicksB,
  xMin: -0.00105, xMax: 0.06645, yMin: 198.71, yMax: 271.31,
  padTop: 16, padBottom: 0, xAxisH: 64.8, yAxisW: 84, xTickPad: 5, xTitlePad: 11.2, wtpAt: 210.6
});

makePanel('chartC', {
  red: redC, blue: blueC, ellipse: ellipseC, caption: '(c)',
  xTicks: xTicksC, xLabels: xLabelsC, yTicks: yTicksC,
  xMin: -0.022317, xMax: 0.000466, yMin: -91.86, yMax: -8.55,
  padTop: 16, padBottom: 0, xAxisH: 63.8, yAxisW: 86, xTickPad: 4.5, xTitlePad: 11.2, wtpAt: -79.8
});
</script>
</body>
</html>
